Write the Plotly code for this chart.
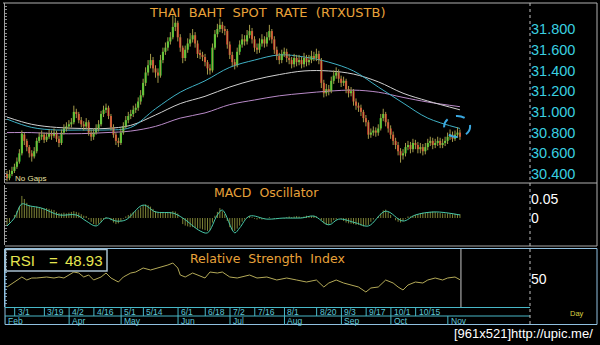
import plotly.graph_objects as go
import pandas as pd

# ---------------- data ----------------
START, END = "2012-02-24", "2012-11-07"

OPEN = [
30.40, 30.36, 30.40, 30.43, 30.47, 30.52, 30.60, 30.78, 30.72, 30.66,
30.60, 30.57, 30.62, 30.72, 30.76, 30.78, 30.73, 30.76, 30.79, 30.77,
30.80, 30.74, 30.70, 30.80, 30.84, 30.86, 30.88, 30.90, 31.00, 30.98,
30.92, 30.88, 30.86, 30.90, 30.80, 30.76, 30.80, 30.84, 30.88, 30.98,
31.02, 31.04, 30.96, 30.85, 30.78, 30.72, 30.70, 30.80, 30.86, 30.92,
30.96, 30.98, 31.02, 31.04, 31.10, 31.16, 31.28, 31.38, 31.45, 31.50,
31.42, 31.38, 31.35, 31.50, 31.58, 31.62, 31.68, 31.72, 31.82, 31.86,
31.72, 31.62, 31.52, 31.60, 31.66, 31.70, 31.74, 31.66, 31.56, 31.55,
31.53, 31.48, 31.42, 31.40, 31.62, 31.75, 31.80, 31.84, 31.80, 31.78,
31.65, 31.55, 31.48, 31.45, 31.58, 31.65, 31.70, 31.68, 31.74, 31.78,
31.70, 31.62, 31.60, 31.66, 31.70, 31.66, 31.72, 31.78, 31.70, 31.60,
31.54, 31.50, 31.56, 31.58, 31.52, 31.50, 31.46, 31.52, 31.48, 31.50,
31.46, 31.52, 31.48, 31.50, 31.54, 31.52, 31.56, 31.50, 31.28, 31.18,
31.22, 31.20, 31.30, 31.35, 31.38, 31.32, 31.28, 31.30, 31.22, 31.18,
31.20, 31.10, 31.06, 31.04, 31.00, 30.94, 30.90, 30.78, 30.80, 30.82,
30.80, 30.84, 30.94, 30.98, 30.90, 30.84, 30.78, 30.72, 30.68, 30.62,
30.58, 30.60, 30.66, 30.68, 30.64, 30.70, 30.68, 30.64, 30.66, 30.62,
30.66, 30.70, 30.72, 30.68, 30.70, 30.72, 30.68, 30.70, 30.72, 30.76,
30.78, 30.74, 30.78, 30.80]

HIGH = [
30.43, 30.44, 30.47, 30.50, 30.56, 30.64, 30.82, 30.80, 30.74, 30.68,
30.63, 30.66, 30.75, 30.80, 30.82, 30.80, 30.80, 30.83, 30.82, 30.84,
30.82, 30.77, 30.83, 30.88, 30.90, 30.92, 30.94, 31.06, 31.03, 31.00,
30.95, 30.91, 30.94, 30.92, 30.83, 30.84, 30.88, 30.92, 31.01, 31.06,
31.08, 31.06, 30.98, 30.88, 30.80, 30.75, 30.84, 30.90, 30.96, 31.00,
31.02, 31.06, 31.08, 31.14, 31.21, 31.32, 31.43, 31.50, 31.56, 31.53,
31.45, 31.42, 31.55, 31.62, 31.67, 31.72, 31.77, 31.93, 31.91, 31.88,
31.75, 31.64, 31.64, 31.71, 31.76, 31.80, 31.77, 31.69, 31.60, 31.58,
31.56, 31.50, 31.46, 31.66, 31.79, 31.85, 31.90, 31.87, 31.83, 31.80,
31.68, 31.58, 31.51, 31.62, 31.69, 31.75, 31.74, 31.79, 31.84, 31.81,
31.73, 31.66, 31.71, 31.75, 31.73, 31.77, 31.84, 31.80, 31.73, 31.63,
31.57, 31.60, 31.62, 31.61, 31.56, 31.53, 31.56, 31.55, 31.55, 31.53,
31.57, 31.55, 31.55, 31.59, 31.58, 31.61, 31.59, 31.52, 31.31, 31.27,
31.26, 31.34, 31.40, 31.43, 31.41, 31.35, 31.34, 31.32, 31.25, 31.24,
31.22, 31.13, 31.09, 31.07, 31.02, 30.97, 30.92, 30.84, 30.86, 30.85,
30.88, 30.98, 31.03, 31.00, 30.93, 30.87, 30.81, 30.75, 30.71, 30.65,
30.64, 30.70, 30.72, 30.71, 30.74, 30.73, 30.71, 30.70, 30.69, 30.70,
30.74, 30.76, 30.75, 30.74, 30.76, 30.75, 30.74, 30.76, 30.80, 30.83,
30.81, 30.82, 30.85, 30.83]

LOW = [
30.33, 30.34, 30.38, 30.41, 30.45, 30.50, 30.58, 30.68, 30.62, 30.56,
30.52, 30.55, 30.60, 30.70, 30.73, 30.70, 30.71, 30.74, 30.73, 30.75,
30.71, 30.66, 30.68, 30.78, 30.81, 30.83, 30.85, 30.88, 30.94, 30.89,
30.85, 30.82, 30.83, 30.77, 30.72, 30.73, 30.78, 30.81, 30.86, 30.95,
30.99, 30.93, 30.82, 30.75, 30.68, 30.66, 30.68, 30.78, 30.84, 30.89,
30.93, 30.95, 30.99, 31.01, 31.07, 31.14, 31.25, 31.35, 31.42, 31.38,
31.33, 31.28, 31.33, 31.47, 31.55, 31.59, 31.65, 31.70, 31.78, 31.68,
31.58, 31.47, 31.49, 31.57, 31.63, 31.67, 31.62, 31.52, 31.51, 31.49,
31.44, 31.36, 31.36, 31.38, 31.60, 31.72, 31.77, 31.76, 31.74, 31.61,
31.51, 31.44, 31.41, 31.43, 31.55, 31.62, 31.64, 31.65, 31.71, 31.66,
31.58, 31.56, 31.57, 31.63, 31.62, 31.63, 31.69, 31.66, 31.56, 31.50,
31.46, 31.47, 31.53, 31.48, 31.46, 31.42, 31.43, 31.44, 31.45, 31.42,
31.43, 31.44, 31.45, 31.47, 31.49, 31.49, 31.46, 31.23, 31.14, 31.15,
31.16, 31.18, 31.27, 31.32, 31.28, 31.24, 31.25, 31.18, 31.14, 31.15,
31.06, 31.02, 31.00, 30.96, 30.90, 30.86, 30.74, 30.75, 30.77, 30.76,
30.77, 30.82, 30.91, 30.86, 30.80, 30.74, 30.68, 30.64, 30.58, 30.51,
30.54, 30.57, 30.63, 30.60, 30.61, 30.64, 30.60, 30.60, 30.58, 30.59,
30.63, 30.67, 30.64, 30.65, 30.67, 30.65, 30.65, 30.67, 30.69, 30.73,
30.71, 30.72, 30.75, 30.73]

CLOSE = [
30.36, 30.40, 30.43, 30.47, 30.52, 30.60, 30.79, 30.72, 30.66, 30.60,
30.57, 30.62, 30.72, 30.76, 30.78, 30.73, 30.76, 30.79, 30.77, 30.80,
30.74, 30.70, 30.80, 30.84, 30.86, 30.88, 30.90, 31.00, 30.98, 30.92,
30.88, 30.86, 30.90, 30.80, 30.76, 30.80, 30.84, 30.88, 30.98, 31.02,
31.04, 30.96, 30.85, 30.78, 30.72, 30.70, 30.80, 30.86, 30.92, 30.96,
30.98, 31.02, 31.04, 31.10, 31.16, 31.28, 31.38, 31.45, 31.50, 31.42,
31.38, 31.35, 31.50, 31.58, 31.62, 31.68, 31.72, 31.82, 31.86, 31.72,
31.62, 31.52, 31.60, 31.66, 31.70, 31.74, 31.66, 31.56, 31.55, 31.53,
31.48, 31.42, 31.40, 31.62, 31.75, 31.80, 31.84, 31.80, 31.78, 31.65,
31.55, 31.48, 31.45, 31.58, 31.65, 31.70, 31.68, 31.74, 31.78, 31.70,
31.62, 31.60, 31.66, 31.70, 31.66, 31.72, 31.78, 31.70, 31.60, 31.54,
31.50, 31.56, 31.58, 31.52, 31.50, 31.46, 31.52, 31.48, 31.50, 31.46,
31.52, 31.48, 31.50, 31.54, 31.52, 31.56, 31.50, 31.28, 31.18, 31.22,
31.20, 31.30, 31.35, 31.38, 31.32, 31.28, 31.30, 31.22, 31.18, 31.20,
31.10, 31.06, 31.04, 31.00, 30.94, 30.90, 30.78, 30.80, 30.82, 30.80,
30.84, 30.94, 30.98, 30.90, 30.84, 30.78, 30.72, 30.68, 30.62, 30.58,
30.60, 30.66, 30.68, 30.64, 30.70, 30.68, 30.64, 30.66, 30.62, 30.66,
30.70, 30.72, 30.68, 30.70, 30.72, 30.68, 30.70, 30.72, 30.76, 30.78,
30.74, 30.78, 30.80, 30.76]

# moving averages (read at sampled bars)
MA_IDX = [0, 10, 20, 30, 40, 50, 60, 70, 80, 90, 100, 110, 120, 130, 140, 150, 160, 170, 183]
MA_FAST = [30.93, 30.85, 30.825, 30.825, 30.825, 30.85, 31.03, 31.19, 31.30, 31.43, 31.50, 31.55,
           31.53, 31.48, 31.395, 31.24, 31.086, 30.94, 30.84]
MA_MID = [30.95, 30.88, 30.85, 30.84, 30.84, 30.87, 30.97, 31.08, 31.15, 31.24, 31.31, 31.36,
          31.395, 31.395, 31.365, 31.29, 31.18, 31.105, 31.02]
MA_SLOW = [30.80, 30.80, 30.79, 30.79, 30.80, 30.815, 30.86, 30.94, 30.99, 31.07, 31.115, 31.155,
           31.18, 31.20, 31.21, 31.19, 31.14, 31.095, 31.05]

MACD = [
-0.018, -0.012, 0.000, 0.008, 0.018, 0.030, 0.058, 0.050, 0.040, 0.034,
0.030, 0.028, 0.030, 0.028, 0.026, 0.025, 0.026, 0.024, 0.022, 0.021,
0.016, 0.013, 0.012, 0.014, 0.012, 0.014, 0.016, 0.018, 0.016, 0.014,
0.010, 0.006, 0.005, -0.004, -0.010, -0.016, -0.018, -0.015, -0.010, -0.004,
0.002, 0.000, -0.006, -0.012, -0.016, -0.014, -0.008, -0.002, 0.004, 0.008,
0.012, 0.016, 0.018, 0.022, 0.028, 0.034, 0.036, 0.034, 0.030, 0.024,
0.018, 0.014, 0.016, 0.016, 0.015, 0.016, 0.016, 0.018, 0.017, 0.012,
0.000, -0.016, -0.020, -0.022, -0.024, -0.024, -0.026, -0.028, -0.028, -0.030,
-0.032, -0.034, -0.032, -0.012, 0.006, 0.016, 0.026, 0.018, 0.010, -0.008,
-0.024, -0.032, -0.034, -0.028, -0.020, -0.010, -0.004, 0.002, 0.005, 0.002,
-0.002, -0.004, -0.002, -0.004, -0.002, 0.000, 0.002, 0.000, -0.002, -0.002,
0.000, 0.000, -0.002, 0.002, 0.004, 0.002, 0.004, 0.005, 0.004, 0.002,
0.004, 0.006, 0.004, 0.005, 0.006, 0.004, 0.000, -0.006, -0.014, -0.018,
-0.018, -0.012, -0.006, -0.004, 0.000, -0.002, -0.008, -0.012, -0.014, -0.015,
-0.016, -0.018, -0.018, -0.020, -0.022, -0.020, -0.018, -0.010, -0.004, 0.000,
0.004, 0.012, 0.020, 0.022, 0.016, 0.008, 0.000, -0.006, -0.010, -0.012,
-0.008, -0.002, 0.004, 0.004, 0.006, 0.008, 0.010, 0.012, 0.014, 0.013,
0.015, 0.016, 0.017, 0.016, 0.014, 0.013, 0.012, 0.012, 0.012, 0.011,
0.010, 0.011, 0.010, 0.010]

SIG_IDX = [0, 3, 6, 9, 14, 21, 28, 32, 36, 40, 44, 48, 55, 60, 67, 71, 78, 81, 85, 87,
           92, 94, 98, 105, 112, 119, 124, 130, 134, 141, 146, 153, 160, 165, 173, 183]
SIGNAL = [-0.021, 0.000, 0.037, 0.032, 0.026, 0.008, 0.008, -0.008, -0.021, 0.000,
          -0.008, -0.005, 0.034, 0.016, 0.013, 0.000, -0.034, -0.039, 0.008, 0.021,
          -0.039, -0.026, 0.005, -0.003, 0.000, 0.000, 0.005, -0.018, -0.003, -0.013,
          -0.021, 0.018, -0.008, 0.008, 0.016, 0.008]

RSI_IDX = [0, 3, 6, 8, 10, 12, 16, 19, 21, 23, 25, 27, 29, 31, 33, 35, 38, 40, 42, 45,
           47, 50, 52, 55, 58, 61, 63, 65, 67, 69, 70, 72, 75, 77, 80, 82, 85, 87, 90, 93,
           95, 98, 101, 105, 109, 113, 117, 121, 125, 128, 130, 133, 136, 139, 142, 145, 147, 150, 153, 156,
           158, 160, 162, 165, 168, 170, 173, 176, 178, 181, 183]
RSI = [38, 45.5, 53, 48.5, 51.5, 51.5, 53, 51.5, 53, 51.5, 56, 60.5, 59, 53, 56, 48.5, 53, 59, 51.5, 45.5,
       53, 59, 60.5, 66.5, 63.5, 66.5, 68, 71, 74, 66.5, 56, 53, 59, 56, 51.5, 60.5, 59, 60.5, 53, 51.5,
       53, 56, 51.5, 53, 48.5, 51.5, 48.5, 45.5, 48.5, 38, 44, 48.5, 44, 41, 38, 30.5, 36.5, 38, 48.5, 44,
       38, 33.5, 41, 45.5, 44, 48.5, 51.5, 48.5, 51.5, 53, 48.93]
RSI_LAST = "48.93"

PRICE_TICKS = [30.4, 30.6, 30.8, 31.0, 31.2, 31.4, 31.6, 31.8]
TICK_DATES = ["2012-03-01", "2012-03-19", "2012-04-02", "2012-04-16", "2012-05-01", "2012-05-14",
              "2012-06-01", "2012-06-18", "2012-07-02", "2012-07-16", "2012-08-01", "2012-08-20",
              "2012-09-03", "2012-09-17", "2012-10-01", "2012-10-15"]
TICK_LABELS = ["3/1", "3/19", "4/2", "4/16", "5/1", "5/14", "6/1", "6/18", "7/2", "7/16",
               "8/1", "8/20", "9/3", "9/17", "10/1", "10/15"]
MONTH_DATES = ["2012-02-24", "2012-04-02", "2012-05-01", "2012-06-01", "2012-07-02",
               "2012-08-01", "2012-09-03", "2012-10-01", "2012-11-01"]
MONTH_LABELS = ["Feb", "Apr", "May", "Jun", "Jul", "Aug", "Sep", "Oct", "Nov"]

# ---------------- figure ----------------
W, H = 600, 345
def px(v): return v / W
def py(v): return 1 - v / H

dates = pd.bdate_range(START, END)
def pos(d): return int(dates.get_loc(pd.Timestamp(d)))

n = len(CLOSE)
idx = list(range(n))
NB = "\u00a0"

fig = go.Figure()

# moving averages
for vals, col in [(MA_SLOW, "#b98ac8"), (MA_MID, "#d0d0d0"), (MA_FAST, "#3fb0c4")]:
    fig.add_trace(go.Scatter(x=MA_IDX, y=vals, mode="lines", xaxis="x", yaxis="y",
                             line=dict(color=col, width=1, shape="spline"), hoverinfo="skip"))

# wicks
wx, wy = [], []
for i in idx:
    wx += [i, i, None]
    wy += [LOW[i], HIGH[i], None]
fig.add_trace(go.Scatter(x=wx, y=wy, mode="lines", xaxis="x", yaxis="y",
                         line=dict(color="#a49a4a", width=1), hoverinfo="skip"))
# bodies
base = [min(o, c) for o, c in zip(OPEN, CLOSE)]
hgt = [abs(c - o) for o, c in zip(OPEN, CLOSE)]
cols = ["#2cf02c" if c >= o else "#f02828" for o, c in zip(OPEN, CLOSE)]
fig.add_trace(go.Bar(x=idx, y=hgt, base=base, width=0.85, xaxis="x", yaxis="y",
                     marker=dict(color=cols, line=dict(width=0)), hoverinfo="skip"))

# MACD histogram as thin vertical strokes
mx, my = [], []
for i, v in zip(idx, MACD):
    mx += [i, i, None]
    my += [0, v, None]
fig.add_trace(go.Scatter(x=mx, y=my, mode="lines", xaxis="x2", yaxis="y2",
                         line=dict(color="#9ea544", width=0.8), hoverinfo="skip"))
fig.add_trace(go.Scatter(x=SIG_IDX, y=SIGNAL, mode="lines", xaxis="x2", yaxis="y2",
                         line=dict(color="#48c8a8", width=1, shape="spline"), hoverinfo="skip"))
# RSI
fig.add_trace(go.Scatter(x=RSI_IDX, y=RSI, mode="lines", xaxis="x3", yaxis="y3",
                         line=dict(color="#b4aa58", width=1), hoverinfo="skip"))

# dummy traces for left tick axes
for ya, xa in [("y4", "x"), ("y5", "x2"), ("y6", "x3")]:
    fig.add_trace(go.Scatter(x=[None], y=[None], xaxis=xa, yaxis=ya, showlegend=False))

XR = [-0.81, 211.3]
XD = [px(5), px(530)]
xcommon = dict(domain=XD, range=XR, showgrid=False, zeroline=False, showticklabels=False,
               showline=False, ticks="", fixedrange=True)

yfont = dict(family="Liberation Sans, Arial, sans-serif", size=14.5, color="#3ad0e0")
wfont = dict(family="Liberation Sans, Arial, sans-serif", size=14, color="#ffffff")

fig.update_layout(
    width=W, height=H, margin=dict(l=0, r=0, t=0, b=0), autosize=False,
    paper_bgcolor="#000000", plot_bgcolor="#000000", showlegend=False, barmode="overlay",
    xaxis=dict(anchor="y", **xcommon),
    xaxis2=dict(anchor="y2", matches="x", **xcommon),
    xaxis3=dict(anchor="y3", matches="x", **xcommon),
    yaxis=dict(domain=[py(183), py(3)], range=[30.3135, 32.051], side="right", anchor="x",
               tickvals=PRICE_TICKS, ticktext=["%.3f" % v for v in PRICE_TICKS], tickfont=yfont,
               showgrid=False, zeroline=False, ticks="", showline=False),
    yaxis2=dict(domain=[py(245), py(185)], range=[-0.07105, 0.08684], side="right", anchor="x2",
                tickvals=[0, 0.05], ticktext=["0", "0.05"], tickfont=wfont,
                showgrid=False, zeroline=False, ticks="", showline=False),
    yaxis3=dict(domain=[py(307), py(249)], range=[8, 95], side="right", anchor="x3",
                tickvals=[50], ticktext=["50"], tickfont=wfont,
                showgrid=False, zeroline=False, ticks="", showline=False),
    yaxis4=dict(overlaying="y", anchor="x", side="left", range=[0, 54], dtick=1, ticks="inside",
                ticklen=2, tickcolor="#8a8a8a", showline=True, linecolor="#a0a0a0",
                showticklabels=False, showgrid=False, zeroline=False),
    yaxis5=dict(overlaying="y2", anchor="x2", side="left", range=[0, 18], dtick=1, ticks="inside",
                ticklen=2, tickcolor="#8a8a8a", showline=True, linecolor="#a0a0a0",
                showticklabels=False, showgrid=False, zeroline=False),
    yaxis6=dict(overlaying="y3", anchor="x3", side="left", range=[0, 17], dtick=1, ticks="inside",
                ticklen=2, tickcolor="#7a9ab0", showline=True, linecolor="#90c0e0",
                showticklabels=False, showgrid=False, zeroline=False),
)

shapes = []
def pline(x0, y0, x1, y1, color, width=1, dash="solid"):
    shapes.append(dict(type="line", xref="paper", yref="paper", x0=px(x0), y0=py(y0),
                       x1=px(x1), y1=py(y1), line=dict(color=color, width=width, dash=dash)))

pline(3, 3, 597, 3, "#b0b0b0")
pline(597, 3, 597, 246, "#b0b0b0")
pline(5, 183, 597, 183, "#b0b0b0")
pline(5, 246, 597, 246, "#a8a8a8")
pline(5, 248.5, 597, 248.5, "#90c0e0")
pline(597, 248.5, 597, 324.5, "#90c0e0")
pline(5, 248.5, 5, 324.5, "#90c0e0")
pline(5, 307.5, 530, 307.5, "#48b8c8")
pline(5, 316, 530, 316, "#48b8c8")
pline(5, 324.5, 597, 324.5, "#90c0e0")
pline(530, 3, 530, 324.5, "#c0c0c0", 1, "dot")

# RSI value box
shapes.append(dict(type="rect", xref="paper", yref="paper", x0=px(5.5), x1=px(107), y0=py(271),
                   y1=py(249.5), line=dict(color="#a8c0d0", width=1.5)))
# last-bar cursor in RSI panel
shapes.append(dict(type="line", xref="x", yref="paper", x0=n - 0.6, x1=n - 0.6, y0=py(307),
                   y1=py(249), line=dict(color="#c8c8c8", width=1)))
# dashed highlight ellipse
shapes.append(dict(type="circle", xref="x", yref="y", x0=176.6, x1=187.1, y0=30.757, y1=30.96,
                   line=dict(color="#3aa8e0", width=2, dash="dash")))

annotations = []
dfont = dict(family="Liberation Sans, Arial, sans-serif", size=8.5, color="#5ec6d6")
for d, lab in zip(TICK_DATES, TICK_LABELS):
    i = pos(d)
    shapes.append(dict(type="line", xref="x", yref="paper", x0=i - 0.9, x1=i - 0.9,
                       y0=py(307.5), y1=py(316), line=dict(color="#48b8c8", width=1)))
    annotations.append(dict(x=i - 0.5, y=py(312.2), xref="x", yref="paper", text=lab,
                            xanchor="left", yanchor="middle", showarrow=False, font=dfont))
for d, lab in zip(MONTH_DATES, MONTH_LABELS):
    i = pos(d)
    shapes.append(dict(type="line", xref="x", yref="paper", x0=i - 0.9, x1=i - 0.9,
                       y0=py(316), y1=py(324.5), line=dict(color="#48b8c8", width=1)))
    annotations.append(dict(x=i - 0.5, y=py(320.6), xref="x", yref="paper", text=lab,
                            xanchor="left", yanchor="middle", showarrow=False, font=dfont))

tfont = dict(family="DejaVu Sans, Verdana, sans-serif", size=13, color="#e8a23a")
def ann(x, y, text, font, xanchor="center"):
    annotations.append(dict(x=px(x), y=py(y), xref="paper", yref="paper", text=text,
                            xanchor=xanchor, yanchor="middle", showarrow=False, font=font))

ann(267, 13, NB.join(["THAI", "", "BAHT", "", "SPOT", "", "RATE", "", "(RTXUSTB)"]), tfont)
ann(266.5, 192, "MACD" + NB + NB + "Oscillator", dict(tfont, size=12.5))
ann(267.5, 258, "Relative" + NB + NB + "Strength" + NB + NB + "Index", dict(tfont, size=12.5))

rfont = dict(family="Liberation Sans, Arial, sans-serif", size=15, color="#e6e650")
ann(8, 260.5, "RSI", rfont, "left")
ann(53.5, 260.5, "=", rfont)
ann(104.5, 260.5, RSI_LAST, rfont, "right")

ann(13, 178, "No" + NB + "Gaps", dict(family="Liberation Sans, Arial, sans-serif", size=8,
                                      color="#e8e0a0"), "left")
ann(577, 313, "Day", dict(family="Liberation Sans, Arial, sans-serif", size=7.5, color="#d8d040"))
ann(595, 333.5, "[961x521]http://upic.me/", dict(family="Liberation Sans, Arial, sans-serif",
                                                  size=13, color="#ffffff"), "right")

fig.update_layout(shapes=shapes, annotations=annotations)
fig.write_html("out.html")
